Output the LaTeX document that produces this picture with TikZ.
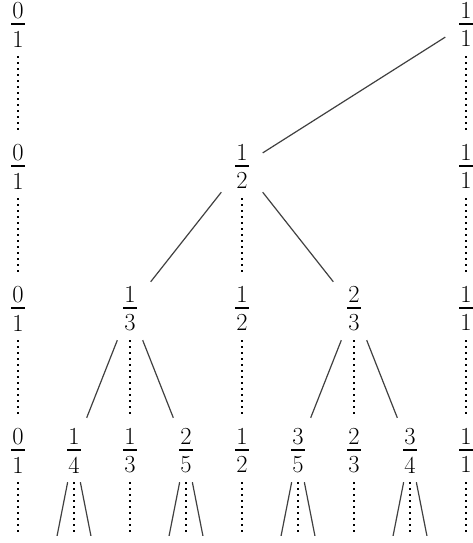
\documentclass[tikz,border=0pt]{standalone}
\usepackage{fontspec}
\newcommand\myfr[2]{\vbox{\offinterlineskip\kern1.5pt\hbox to 14pt{\hss#1\hss}\kern4pt\hrule height 2.6pt\kern5.5pt\hbox to 14pt{\hss#2\hss}}}
\tikzset{
  fracnode/.style={minimum width=41pt, minimum height=64pt, inner sep=0pt, font=\fontsize{24.5pt}{28pt}\selectfont},
  treeline/.style={line width=1.2pt, draw=black!75},
  dotline/.style={line width=1.6pt, dash pattern=on 2pt off 4pt, draw=black}
}
\begin{document}
\begin{tikzpicture}[x=1pt,y=1pt]
\useasboundingbox (0,0) rectangle (473,543);
\begin{scope}
\clip (0,7) rectangle (473,543);
% row 1
\node[fracnode] (a1) at (18,519) {\myfr{0}{1}};
\node[fracnode] (b1) at (466,519) {\myfr{1}{1}};
% row 2
\node[fracnode] (a2) at (18,377) {\myfr{0}{1}};
\node[fracnode] (h2) at (242,377) {\myfr{1}{2}};
\node[fracnode] (b2) at (466,377) {\myfr{1}{1}};
% row 3
\node[fracnode] (a3) at (18,235) {\myfr{0}{1}};
\node[fracnode] (t3) at (130,235) {\myfr{1}{3}};
\node[fracnode] (h3) at (242,235) {\myfr{1}{2}};
\node[fracnode] (u3) at (354,235) {\myfr{2}{3}};
\node[fracnode] (b3) at (466,235) {\myfr{1}{1}};
% row 4
\node[fracnode] (a4) at (18,93) {\myfr{0}{1}};
\node[fracnode] (q4) at (74,93) {\myfr{1}{4}};
\node[fracnode] (t4) at (130,93) {\myfr{1}{3}};
\node[fracnode] (f4) at (186,93) {\myfr{2}{5}};
\node[fracnode] (h4) at (242,93) {\myfr{1}{2}};
\node[fracnode] (g4) at (298,93) {\myfr{3}{5}};
\node[fracnode] (u4) at (354,93) {\myfr{2}{3}};
\node[fracnode] (v4) at (410,93) {\myfr{3}{4}};
\node[fracnode] (b4) at (466,93) {\myfr{1}{1}};
% row 5 (off picture) coordinates
\coordinate (k0) at (18,-49);
\coordinate (k1) at (46,-49);
\coordinate (k2) at (74,-49);
\coordinate (k3) at (102,-49);
\coordinate (k4) at (130,-49);
\coordinate (k5) at (158,-49);
\coordinate (k6) at (186,-49);
\coordinate (k7) at (214,-49);
\coordinate (k8) at (242,-49);
\coordinate (k9) at (270,-49);
\coordinate (k10) at (298,-49);
\coordinate (k11) at (326,-49);
\coordinate (k12) at (354,-49);
\coordinate (k13) at (382,-49);
\coordinate (k14) at (410,-49);
\coordinate (k15) at (438,-49);
\coordinate (k16) at (466,-49);
% dotted lines
\draw[dotline] (a1) -- (a2);
\draw[dotline] (b1) -- (b2);
\draw[dotline] (a2) -- (a3);
\draw[dotline] (h2) -- (h3);
\draw[dotline] (b2) -- (b3);
\draw[dotline] (a3) -- (a4);
\draw[dotline] (t3) -- (t4);
\draw[dotline] (h3) -- (h4);
\draw[dotline] (u3) -- (u4);
\draw[dotline] (b3) -- (b4);
\draw[dotline] (a4) -- (k0);
\draw[dotline] (q4) -- (k2);
\draw[dotline] (t4) -- (k4);
\draw[dotline] (f4) -- (k6);
\draw[dotline] (h4) -- (k8);
\draw[dotline] (g4) -- (k10);
\draw[dotline] (u4) -- (k12);
\draw[dotline] (v4) -- (k14);
\draw[dotline] (b4) -- (k16);
% tree lines
\draw[treeline] (b1) -- (h2);
\draw[treeline] (h2) -- (t3);
\draw[treeline] (h2) -- (u3);
\draw[treeline] (t3) -- (q4);
\draw[treeline] (t3) -- (f4);
\draw[treeline] (u3) -- (g4);
\draw[treeline] (u3) -- (v4);
\draw[treeline] (q4) -- (k1);
\draw[treeline] (q4) -- (k3);
\draw[treeline] (f4) -- (k5);
\draw[treeline] (f4) -- (k7);
\draw[treeline] (g4) -- (k9);
\draw[treeline] (g4) -- (k11);
\draw[treeline] (v4) -- (k13);
\draw[treeline] (v4) -- (k15);
\end{scope}
\end{tikzpicture}
\end{document}
